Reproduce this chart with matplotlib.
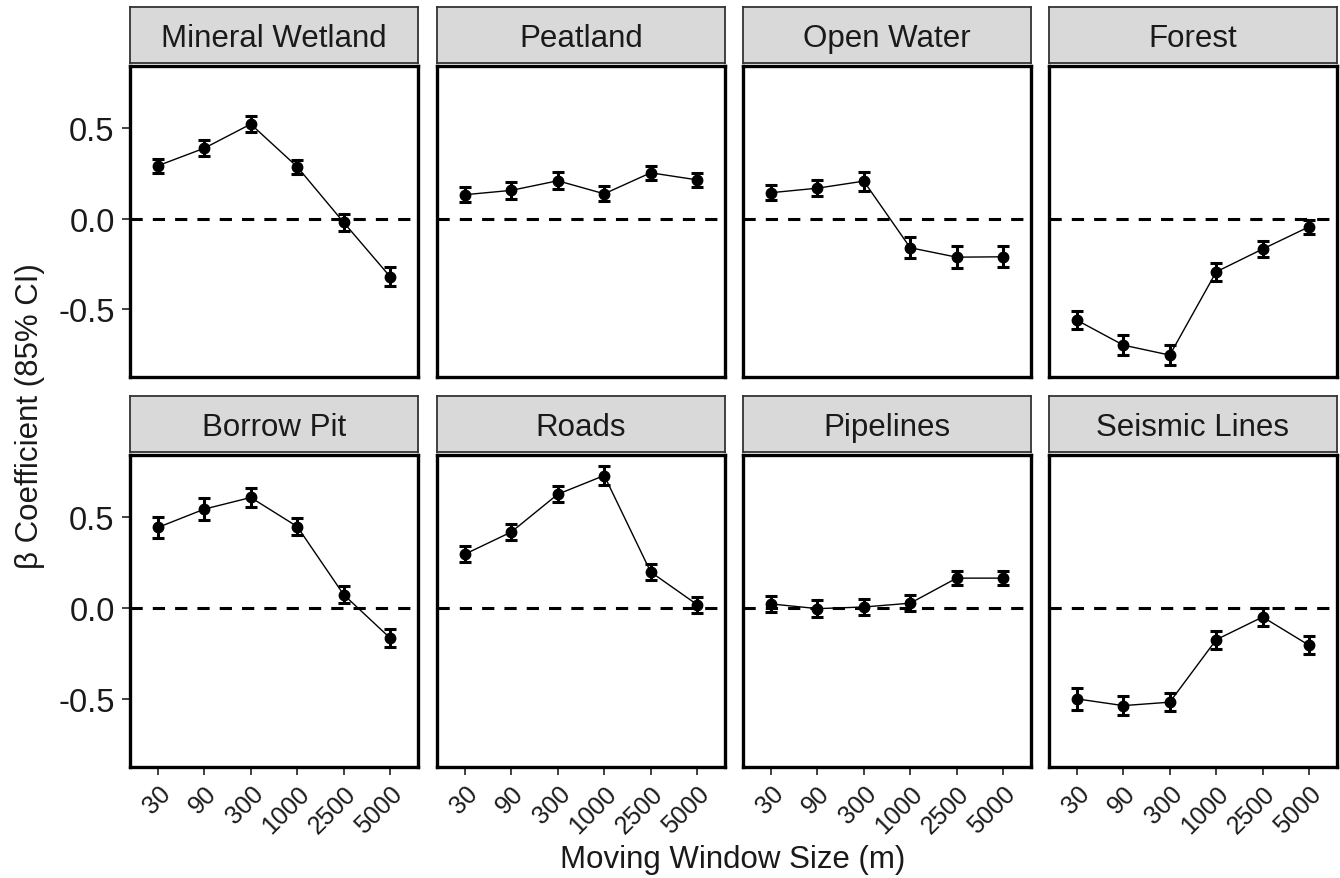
import numpy as np
import matplotlib
matplotlib.use('Agg')
import matplotlib.pyplot as plt

plt.rcParams['font.family'] = ['Liberation Sans', 'DejaVu Sans']

sizes = ['30', '90', '300', '1000', '2500', '5000']

panels = ['Mineral Wetland', 'Peatland', 'Open Water', 'Forest',
          'Borrow Pit', 'Roads', 'Pipelines', 'Seismic Lines']

# beta estimates and half widths of the 85% CI
mineral = [0.293, 0.390, 0.523, 0.287, -0.020, -0.320]
mineral_ci = [0.040, 0.044, 0.045, 0.040, 0.045, 0.053]
peat = [0.133, 0.157, 0.210, 0.138, 0.254, 0.215]
peat_ci = [0.043, 0.047, 0.048, 0.042, 0.040, 0.038]
water = [0.144, 0.169, 0.208, -0.160, -0.212, -0.210]
water_ci = [0.042, 0.045, 0.052, 0.057, 0.060, 0.057]
forest = [-0.560, -0.698, -0.753, -0.293, -0.167, -0.044]
forest_ci = [0.048, 0.054, 0.054, 0.049, 0.044, 0.040]
borrow = [0.445, 0.546, 0.610, 0.450, 0.075, -0.164]
borrow_ci = [0.059, 0.062, 0.050, 0.048, 0.048, 0.049]
roads = [0.298, 0.420, 0.628, 0.731, 0.200, 0.020]
roads_ci = [0.045, 0.042, 0.045, 0.050, 0.046, 0.044]
pipes = [0.024, -0.002, 0.007, 0.028, 0.166, 0.166]
pipes_ci = [0.044, 0.046, 0.044, 0.043, 0.039, 0.039]
seismic = [-0.499, -0.536, -0.517, -0.173, -0.048, -0.204]
seismic_ci = [0.059, 0.052, 0.050, 0.049, 0.048, 0.050]

est = [mineral, peat, water, forest, borrow, roads, pipes, seismic]
cis = [mineral_ci, peat_ci, water_ci, forest_ci, borrow_ci, roads_ci, pipes_ci, seismic_ci]

W, H = 1340, 879
fig = plt.figure(figsize=(W / 100, H / 100), dpi=100)

lefts = [130, 437, 743, 1049]
pw = 288
rows = [(67, 378, 8, 64), (456, 768, 397, 453)]  # panel top, bottom, strip top, bottom
fs = 22.5

x = np.arange(len(sizes))
for i, name in enumerate(panels):
    r, c = divmod(i, 4)
    ptop, pbot, stop, sbot = rows[r]
    l = lefts[c]
    ax = fig.add_axes([l / W, 1 - pbot / H, pw / W, (pbot - ptop) / H])
    ax.axhline(0, color='black', lw=2.2, ls=(0, (4, 3.3)), zorder=1)
    ax.errorbar(x, est[i], yerr=cis[i], fmt='o', color='black', ms=7.5,
                elinewidth=2.2, capsize=4, capthick=2.2, zorder=3)
    ax.plot(x, est[i], color='black', lw=1.0, zorder=2)
    ax.set_xlim(-0.6, 5.6)
    ax.set_ylim(-0.874, 0.844)
    ax.set_yticks([-0.5, 0.0, 0.5])
    ax.set_xticks(x)
    for s in ax.spines.values():
        s.set_linewidth(2.4)
        s.set_color('black')
    ax.tick_params(length=6, width=1.3, color='#333333', labelcolor='#1a1a1a')
    ax.tick_params(axis='y', labelsize=23.5, pad=5)
    ax.tick_params(axis='x', labelsize=18, pad=4)
    if c == 0:
        ax.set_yticklabels(['-0.5', '0.0', '0.5'])
    else:
        ax.tick_params(axis='y', left=False, labelleft=False)
    if r == 1:
        ax.set_xticklabels(sizes, rotation=45, ha='right', va='top',
                           rotation_mode='anchor')
    else:
        ax.tick_params(axis='x', bottom=False, labelbottom=False)

    sax = fig.add_axes([l / W, 1 - sbot / H, pw / W, (sbot - stop) / H])
    sax.set_facecolor('#D9D9D9')
    sax.set_xticks([])
    sax.set_yticks([])
    for s in sax.spines.values():
        s.set_linewidth(1.3)
        s.set_color('#333333')
    sax.text(0.5, 0.45, name, ha='center', va='center', fontsize=fs,
             color='#1a1a1a', transform=sax.transAxes)

fig.text(30 / W, 1 - 416 / H, 'β Coefficient (85% CI)', rotation=90,
         ha='center', va='center', fontsize=fs, color='#1a1a1a')
fig.text(733 / W, 1 - 860 / H, 'Moving Window Size (m)', ha='center',
         va='center', fontsize=fs, color='#1a1a1a')

fig.savefig('out.png', dpi=100, facecolor='white')
